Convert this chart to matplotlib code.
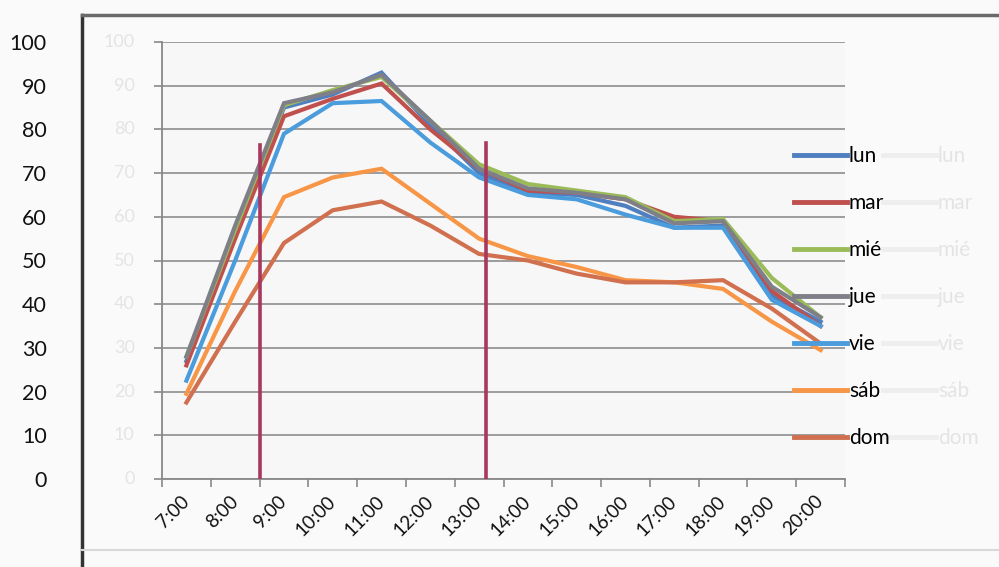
import matplotlib
matplotlib.use("Agg")
import matplotlib.pyplot as plt
from matplotlib.lines import Line2D

plt.rcParams['font.family'] = ['Lato', 'DejaVu Sans']

hours = ['7:00', '8:00', '9:00', '10:00', '11:00', '12:00', '13:00',
         '14:00', '15:00', '16:00', '17:00', '18:00', '19:00', '20:00']
days = ['lun', 'mar', 'mié', 'jue', 'vie', 'sáb', 'dom']

lun = [27, 56, 85, 88, 93, 81, 70, 65.5, 65, 62.5, 57.5, 58, 42, 36]
mar = [26, 55, 83, 87, 90.5, 80, 71, 66, 65.5, 64, 60, 59, 43, 35]
mie = [28, 57, 85.5, 89, 92, 82, 72, 67.5, 66, 64.5, 59, 59.5, 46, 37]
jue = [28, 58, 86, 88.5, 92.5, 82, 71, 66.5, 65.5, 64, 58.5, 59, 44, 37]
vie = [22.5, 50, 79, 86, 86.5, 77, 69, 65, 64, 60.5, 57.5, 57.5, 41, 35]
sab = [19.5, 43, 64.5, 69, 71, 63, 55, 51, 48.5, 45.5, 45, 43.5, 36, 29.5]
dom = [17.5, 36, 54, 61.5, 63.5, 58, 51.5, 50, 47, 45, 45, 45.5, 39, 31]
series = [lun, mar, mie, jue, vie, sab, dom]
colors = ['#4F7FBF', '#C0504D', '#9BBB59', '#7F7F88', '#4A9CDC', '#F79646', '#D0704F']

# vertical markers (category position, height)
marker_x = [1.5, 6.15]
marker_top = [76.5, 77]

yticks = list(range(0, 101, 10))

fig = plt.figure(figsize=(9.99, 5.67), dpi=100, facecolor='#fafafa')
ax = fig.add_axes([162/999, 1-479/567, (845-162)/999, (479-42)/567])
ax.set_facecolor('#f7f7f7')

x = list(range(len(hours)))
for vals, c, d in zip(series, colors, days):
    ax.plot(x, vals, color=c, lw=3, label=d, solid_joinstyle='miter')

for mx, mt in zip(marker_x, marker_top):
    ax.plot([mx, mx], [0, mt], color='#A8385E', lw=2.6, zorder=5)

ax.set_xlim(-0.5, len(hours) - 0.5)
ax.set_ylim(0, 100)
ax.set_yticks(yticks)
ax.set_yticklabels([str(v) for v in yticks], fontsize=15.5, color='#111111')
ax.yaxis.grid(True, color='#9c9c9c', lw=1.4)
ax.set_axisbelow(True)
ax.tick_params(axis='y', length=6, width=1.2, color='#888888', pad=77)

ax.set_xticks([i - 0.5 for i in range(len(hours) + 1)])
ax.set_xticklabels([])
ax.set_xticks(x, minor=True)
ax.set_xticklabels(hours, minor=True, rotation=45, ha='right', va='center',
                   rotation_mode='anchor', fontsize=13.5, color='#111111')
ax.tick_params(axis='x', which='major', length=6, width=1.2, color='#888888')
ax.tick_params(axis='x', which='minor', length=0, pad=14)

for s in ['top', 'right']:
    ax.spines[s].set_visible(False)
for s in ['left', 'bottom']:
    ax.spines[s].set_color('#888888')
    ax.spines[s].set_linewidth(1.3)

# faint show-through labels from the scan
for v in yticks:
    ax.text(-0.04, v, str(v), transform=ax.get_yaxis_transform(),
            ha='right', va='center', fontsize=13, color='#e4e4e4')

ghost = [Line2D([], [], color='#eeeeee', lw=3.5) for c in colors]
leg2 = ax.legend(ghost, days, loc='upper left', bbox_to_anchor=(883/999, 1-146/567),
                 bbox_transform=fig.transFigure, frameon=False, fontsize=15,
                 handlelength=2.55, handletextpad=0.08, labelspacing=1.3,
                 borderpad=0, borderaxespad=0, labelcolor='#e4e4e4')
leg2.set_zorder(1)
ax.add_artist(leg2)

handles = [Line2D([], [], color=c, lw=3.5) for c in colors]
leg = ax.legend(handles, days, loc='upper left', bbox_to_anchor=(794/999, 1-146/567),
                bbox_transform=fig.transFigure, frameon=False, fontsize=15,
                handlelength=2.55, handletextpad=0.08, labelspacing=1.3,
                borderpad=0, borderaxespad=0)
leg.set_zorder(10)

# outer frame of the scanned page
fig.add_artist(Line2D([82/999, 82/999], [0, 1-15/567], transform=fig.transFigure,
                      color='#333333', lw=2.5))
fig.add_artist(Line2D([82/999, 1], [1-15/567, 1-15/567], transform=fig.transFigure,
                      color='#6a6a6a', lw=2.5))
fig.add_artist(Line2D([82/999, 1], [1-550/567, 1-550/567], transform=fig.transFigure,
                      color='#d8d8d8', lw=1.5))

fig.savefig('out.png', dpi=100, facecolor=fig.get_facecolor())
